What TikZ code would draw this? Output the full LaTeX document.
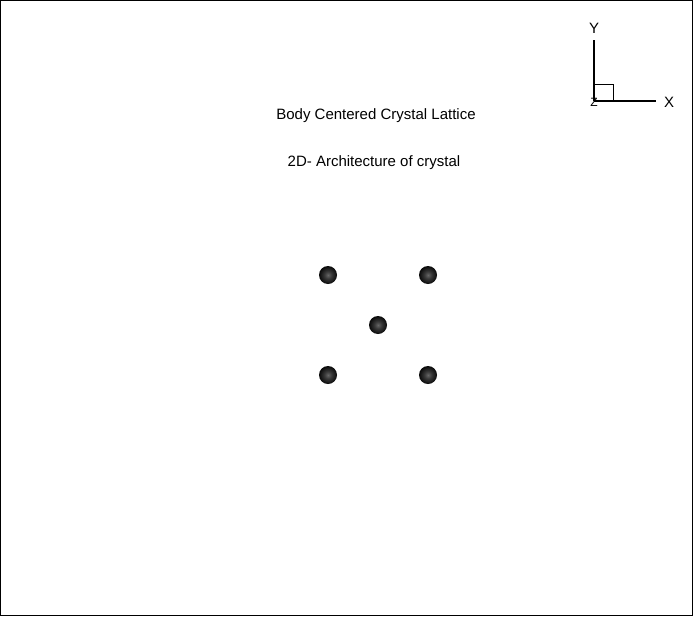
\documentclass[tikz,border=0pt]{standalone}
\usepackage{fontspec}
\setmainfont{Liberation Sans}
\pgfdeclareradialshading{atomshade}{\pgfpoint{0bp}{0bp}}{color(0bp)=(black!60); color(10bp)=(black!78); color(24bp)=(black!95); color(34bp)=(black); color(50bp)=(black)}
\begin{document}
\begin{tikzpicture}[x=1pt,y=-1pt,
  lbl/.style={font=\fontsize{15}{17}\selectfont, inner sep=0pt},
  atom/.style={circle, minimum size=18pt, inner sep=0pt, shading=atomshade},
  ax/.style={line width=2pt}]
\path[use as bounding box] (0,0) rectangle (693,616);
\draw[line width=1pt] (0.5,0.5) rectangle (692.5,615.5);
\node[lbl] (t1) at (376,116) {Body Centered Crystal Lattice};
\node[lbl] (t2) at (374,163) {2D- Architecture of crystal};
\node[atom] (a1) at (328,275) {};
\node[atom] (a2) at (428,275) {};
\node[atom] (a3) at (378,325) {};
\node[atom] (a4) at (328,375) {};
\node[atom] (a5) at (428,375) {};
\coordinate (o) at (594,101);
\coordinate (ye) at (594,40);
\coordinate (xe) at (656,101);
\draw[ax] (o) -- (ye);
\draw[ax] (o) -- (xe);
\draw[line width=0.8pt] (594,84) rectangle (613,101);
\node[lbl, anchor=base] (ly) at (594,33) {Y};
\node[lbl, anchor=base] (lx) at (669,107) {X};
\node[lbl, anchor=base, font=\fontsize{12}{14}\selectfont] (lz) at (594,106) {Z};
\end{tikzpicture}
\end{document}
